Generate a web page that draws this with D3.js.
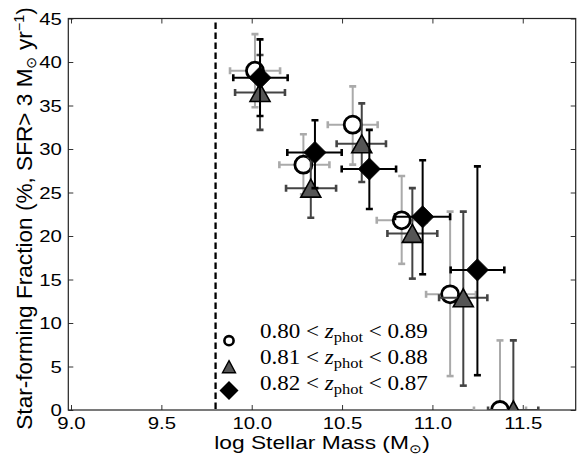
<!DOCTYPE html>
<html>
<head>
<meta charset="utf-8">
<script src="https://cdn.jsdelivr.net/npm/d3@7"></script>
<style>
  html, body { margin: 0; padding: 0; background: #fff; }
  svg { display: block; }
  .sans { font-family: "Liberation Sans", Arial, Helvetica, sans-serif; }
  .serif { font-family: "Liberation Serif", "Times New Roman", serif; }
</style>
</head>
<body>
<div id="chart"></div>
<script>
// 0.80 < z < 0.89 (open circles)
const massCirc   = [10.018, 10.286, 10.559, 10.830, 11.098, 11.374];
const fracCirc   = [39.0, 28.2, 32.8, 21.8, 13.3, 0];
const massLoCirc = [9.880, 10.153, 10.421, 10.692, 10.965, 11.230];
const massHiCirc = [10.157, 10.430, 10.697, 10.969, 11.241, 11.518];
const fracLoCirc = [34.8, 24.8, 28.2, 16.8, 3.9, 0];
const fracHiCirc = [43.2, 31.7, 37.2, 26.9, 22.8, 8.0];

// 0.81 < z < 0.88 (grey triangles)
const massTri   = [10.046, 10.327, 10.609, 10.889, 11.171, 11.448];
const fracTri   = [36.5, 25.5, 30.6, 20.3, 12.9, 0];
const massLoTri = [9.908, 10.190, 10.470, 10.751, 11.037, 11.308];
const massHiTri = [10.184, 10.467, 10.743, 11.027, 11.304, 11.586];
const fracLoTri = [32.2, 22.1, 26.2, 15.1, 2.8, 0];
const fracHiTri = [40.8, 29.0, 35.25, 25.5, 22.8, 8.0];

// 0.82 < z < 0.87 (black diamonds)
const massDia   = [10.046, 10.350, 10.651, 10.946, 11.249];
const fracDia   = [38.2, 29.6, 27.7, 22.2, 16.1];
const massLoDia = [9.898, 10.197, 10.498, 10.793, 11.101];
const massHiDia = [10.199, 10.498, 10.799, 11.098, 11.398];
const fracLoDia = [33.8, 25.5, 23.1, 15.6, 4.0];
const fracHiDia = [42.6, 33.3, 32.2, 28.7, 28.0];

const xTicks = [9.0, 9.5, 10.0, 10.5, 11.0, 11.5];
const yTicks = [0, 5, 10, 15, 20, 25, 30, 35, 40, 45];
const massLimit = 9.8;
const legendLabels = [["0.80", "0.89"], ["0.81", "0.88"], ["0.82", "0.87"]];

(() => {
  const width = 577, height = 466;
  const margin = { top: 18.5, right: 1.3, bottom: 56, left: 68.3 };
  const iw = width - margin.left - margin.right, ih = height - margin.top - margin.bottom;
  const sx = 1.25; // labels are drawn wide in the original

  const x = d3.scaleLinear().domain([8.985, 11.793]).range([0, iw]);
  const y = d3.scaleLinear().domain([0, 45]).range([ih, 0]);

  const svg = d3.select("#chart").append("svg")
    .attr("width", width).attr("height", height);

  svg.append("defs").append("clipPath").attr("id", "clip")
    .append("rect").attr("width", iw).attr("height", ih);

  const g = svg.append("g").attr("transform", `translate(${margin.left},${margin.top})`);

  // axes with inward ticks on all four sides
  const tickCol = "#333";
  const bottom = g.append("g").attr("transform", `translate(0,${ih})`)
    .call(d3.axisBottom(x).tickValues(xTicks).tickFormat(d3.format(".1f")).tickSizeInner(-5).tickSizeOuter(0));
  bottom.selectAll("text").attr("class", "sans").style("font-size", "16.3px").attr("fill", "#000")
    .attr("y", 0).attr("dy", "19.5px").attr("transform", `scale(${sx},1)`);

  g.append("g").call(d3.axisTop(x).tickValues(xTicks).tickFormat("").tickSizeInner(-5).tickSizeOuter(0));

  const left = g.append("g")
    .call(d3.axisLeft(y).tickValues(yTicks).tickFormat(d3.format("d")).tickSizeInner(-5).tickSizeOuter(0));
  left.selectAll("text").attr("class", "sans").style("font-size", "16.3px").attr("fill", "#000")
    .attr("x", 0).attr("dy", "0.36em").attr("transform", `translate(-6.5,0) scale(${sx},1)`);

  g.append("g").attr("transform", `translate(${iw},0)`)
    .call(d3.axisRight(y).tickValues(yTicks).tickFormat("").tickSizeInner(-5).tickSizeOuter(0));

  g.selectAll(".domain").remove();
  g.selectAll(".tick line").attr("stroke", tickCol).attr("stroke-width", 1);

  g.append("rect").attr("width", iw).attr("height", ih)
    .attr("fill", "none").attr("stroke", "#222").attr("stroke-width", 1.2);

  // mass completeness limit
  g.append("line")
    .attr("x1", x(massLimit)).attr("x2", x(massLimit))
    .attr("y1", y(45) + 4).attr("y2", y(0))
    .attr("stroke", "#000").attr("stroke-width", 2.3).attr("stroke-dasharray", "6.5,3.5");

  const plot = g.append("g").attr("clip-path", "url(#clip)");

  const triPath = (w, h) => `M0,${-h / 2}L${w / 2},${h / 2}L${-w / 2},${h / 2}Z`;
  const diaPath = (r) => `M0,${-r}L${r},0L0,${r}L${-r},0Z`;

  const series = [
    { mass: massCirc, frac: fracCirc, mlo: massLoCirc, mhi: massHiCirc, flo: fracLoCirc, fhi: fracHiCirc,
      err: "#aaaaaa", kind: "circle" },
    { mass: massTri, frac: fracTri, mlo: massLoTri, mhi: massHiTri, flo: fracLoTri, fhi: fracHiTri,
      err: "#444444", kind: "tri" },
    { mass: massDia, frac: fracDia, mlo: massLoDia, mhi: massHiDia, flo: fracLoDia, fhi: fracHiDia,
      err: "#000000", kind: "dia" }
  ];

  const cap = 3.5;
  series.forEach(s => {
    const pts = s.mass.map((m, i) => ({ m, f: s.frac[i], mlo: s.mlo[i], mhi: s.mhi[i], flo: s.flo[i], fhi: s.fhi[i] }));
    const eb = plot.append("g").attr("stroke", s.err).attr("fill", "none");
    pts.forEach(d => {
      eb.append("line").attr("x1", x(d.mlo)).attr("x2", x(d.mhi)).attr("y1", y(d.f)).attr("y2", y(d.f)).attr("stroke-width", 2);
      eb.append("line").attr("x1", x(d.m)).attr("x2", x(d.m)).attr("y1", y(d.flo)).attr("y2", y(d.fhi)).attr("stroke-width", 2);
      // caps
      eb.append("line").attr("x1", x(d.mlo)).attr("x2", x(d.mlo)).attr("y1", y(d.f) - cap).attr("y2", y(d.f) + cap).attr("stroke-width", 2.6);
      eb.append("line").attr("x1", x(d.mhi)).attr("x2", x(d.mhi)).attr("y1", y(d.f) - cap).attr("y2", y(d.f) + cap).attr("stroke-width", 2.6);
      eb.append("line").attr("x1", x(d.m) - cap).attr("x2", x(d.m) + cap).attr("y1", y(d.fhi)).attr("y2", y(d.fhi)).attr("stroke-width", 2.6);
      eb.append("line").attr("x1", x(d.m) - cap).attr("x2", x(d.m) + cap).attr("y1", y(d.flo)).attr("y2", y(d.flo)).attr("stroke-width", 2.6);
    });
    const mk = plot.append("g");
    if (s.kind === "circle") {
      mk.selectAll("circle").data(pts).enter().append("circle")
        .attr("cx", d => x(d.m)).attr("cy", d => y(d.f)).attr("r", 8.5)
        .attr("fill", "#fff").attr("stroke", "#000").attr("stroke-width", 2.8);
    } else if (s.kind === "tri") {
      mk.selectAll("path").data(pts).enter().append("path")
        .attr("d", triPath(20, 18))
        .attr("transform", d => `translate(${x(d.m)},${y(d.f)})`)
        .attr("fill", "#555").attr("stroke", "#000").attr("stroke-width", 1.6).attr("stroke-linejoin", "miter");
    } else {
      mk.selectAll("path").data(pts).enter().append("path")
        .attr("d", diaPath(11))
        .attr("transform", d => `translate(${x(d.m)},${y(d.f)})`)
        .attr("fill", "#000").attr("stroke", "#000").attr("stroke-width", 1);
    }
  });

  // legend
  const legY = [340.7, 366.7, 390.5];
  const leg = svg.append("g");
  leg.append("circle").attr("cx", 229).attr("cy", legY[0]).attr("r", 4.6)
    .attr("fill", "#fff").attr("stroke", "#000").attr("stroke-width", 2.6);
  leg.append("path").attr("d", triPath(13, 12)).attr("transform", `translate(229,${legY[1]})`)
    .attr("fill", "#555").attr("stroke", "#000").attr("stroke-width", 1.4);
  leg.append("path").attr("d", diaPath(9.5)).attr("transform", `translate(229,${legY[2]})`)
    .attr("fill", "#000");

  const baseY = [338.3, 364, 389.8];
  legendLabels.forEach((lab, i) => {
    const t = leg.append("text").attr("class", "serif").style("font-size", "21px")
      .attr("x", 0).attr("y", 0);
    t.append("tspan").text(`${lab[0]} < `);
    t.append("tspan").style("font-style", "italic").text("z");
    t.append("tspan").style("font-size", "15px").attr("dy", "4").text("phot");
    t.append("tspan").attr("dy", "-4").text(` < ${lab[1]}`);
    const len = t.node().getComputedTextLength();
    const k = 168 / len;
    t.attr("transform", `translate(260,${baseY[i]}) scale(${k},1)`);
  });

  // axis titles
  const xl = svg.append("text").attr("class", "sans").style("font-size", "18px")
    .attr("text-anchor", "middle");
  xl.append("tspan").text("log Stellar Mass (M");
  xl.append("tspan").style("font-size", "12px").attr("dy", "4").text("\u2299");
  xl.append("tspan").attr("dy", "-4").text(")");
  const kx = 215 / xl.node().getComputedTextLength();
  xl.attr("transform", `translate(322,448.5) scale(${kx},1)`);

  const yl = svg.append("text").attr("class", "sans").style("font-size", "22px")
    .attr("text-anchor", "middle");
  yl.append("tspan").text("Star-forming Fraction (%, SFR> 3 M");
  yl.append("tspan").style("font-size", "14px").attr("dy", "4").text("\u2299");
  yl.append("tspan").attr("dy", "-4").text(" yr");
  yl.append("tspan").style("font-size", "14px").attr("dy", "-8").text("\u22121");
  yl.append("tspan").attr("dy", "8").text(")");
  const ky = 423 / yl.node().getComputedTextLength();
  yl.attr("transform", `translate(31.5,218.5) rotate(-90) scale(${ky},1)`);
})();
</script>
</body>
</html>
